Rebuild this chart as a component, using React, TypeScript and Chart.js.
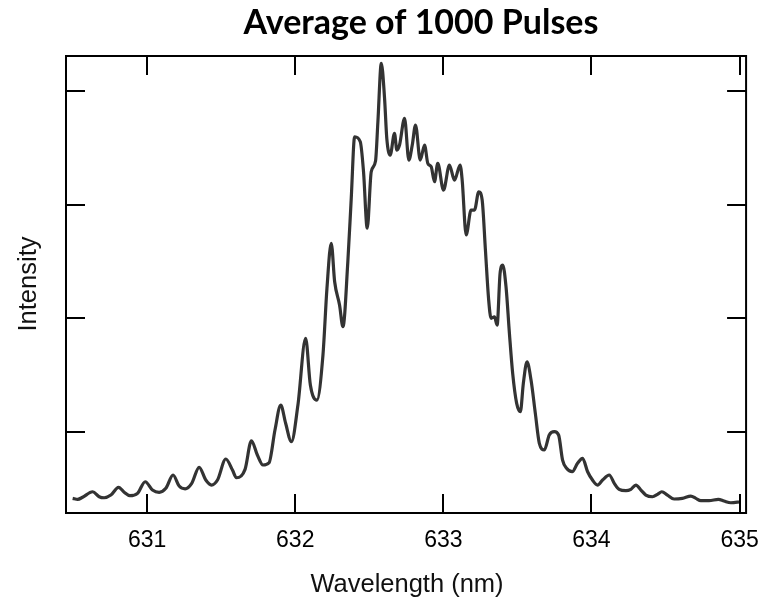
import React, { useEffect, useRef } from "react";
import { Chart, registerables } from "chart.js";

Chart.register(...registerables);

const TITLE = "Average of 1000 Pulses";
const X_TITLE = "Wavelength (nm)";
const Y_TITLE = "Intensity";

const X_TICKS = [631, 632, 633, 634, 635];
const Y_TICKS = [100, 200, 300, 400];

const WAVELENGTH = [
  630.497, 630.531, 630.564, 630.632, 630.676, 630.71, 630.755, 630.807, 630.845, 630.883,
  630.935, 630.987, 631.036, 631.081, 631.126, 631.175, 631.216, 631.256, 631.301, 631.351,
  631.396, 631.434, 631.475, 631.531, 631.576, 631.603, 631.661, 631.704, 631.744, 631.782,
  631.823, 631.863, 631.902, 631.935, 631.974, 632.018, 632.07, 632.102, 632.146, 632.187,
  632.214, 632.243, 632.266, 632.299, 632.322, 632.355, 632.378, 632.401, 632.439, 632.461,
  632.486, 632.513, 632.542, 632.558, 632.581, 632.603, 632.618, 632.641, 632.67, 632.686,
  632.704, 632.738, 632.767, 632.79, 632.812, 632.844, 632.873, 632.895, 632.918, 632.94,
  632.962, 633.001, 633.041, 633.075, 633.113, 633.127, 633.154, 633.187, 633.21, 633.239,
  633.262, 633.284, 633.306, 633.322, 633.345, 633.363, 633.383, 633.401, 633.423, 633.446,
  633.468, 633.495, 633.52, 633.54, 633.565, 633.592, 633.621, 633.648, 633.682, 633.715,
  633.749, 633.778, 633.805, 633.832, 633.87, 633.906, 633.94, 633.974, 634.007, 634.041,
  634.075, 634.12, 634.154, 634.187, 634.233, 634.266, 634.3, 634.334, 634.367, 634.412,
  634.446, 634.475, 634.513, 634.558, 634.614, 634.671, 634.705, 634.738, 634.794, 634.857,
  634.895, 634.941, 635.008,
];

const INTENSITY = [
  41.7, 40.8, 42.6, 47.5, 43.1, 42.2, 44.6, 51.4, 47.0, 44.0,
  46.1, 56.3, 49.0, 47.0, 50.5, 62.2, 52.5, 50.1, 54.9, 69.0,
  57.8, 53.4, 57.8, 76.3, 66.6, 59.8, 67.2, 92.3, 79.8, 71.0,
  73.0, 101.8, 123.7, 107.7, 91.5, 123.7, 182.4, 141.3, 128.1, 167.7,
  226.4, 266.0, 232.2, 211.7, 192.6, 249.8, 305.5, 359.7, 355.3, 328.9,
  279.2, 328.9, 338.3, 372.9, 424.3, 393.5, 358.3, 343.6, 362.7, 348.0,
  352.4, 375.9, 339.2, 352.4, 370.0, 339.2, 352.4, 336.3, 333.3, 320.1,
  336.3, 312.8, 334.8, 321.6, 334.8, 321.6, 273.3, 295.2, 295.2, 311.3,
  304.0, 260.1, 216.1, 200.0, 201.4, 194.1, 239.6, 246.9, 227.8, 186.8,
  151.6, 125.2, 117.9, 142.8, 161.8, 145.7, 116.4, 90.1, 84.2, 97.4,
  100.3, 97.4, 75.4, 68.1, 65.1, 72.5, 76.9, 65.1, 57.8, 53.4,
  57.8, 62.2, 54.9, 49.6, 48.4, 49.6, 53.4, 49.0, 44.6, 43.1,
  45.2, 47.5, 44.6, 41.1, 41.7, 43.7, 41.7, 39.6, 39.6, 40.8,
  39.3, 37.8, 38.7,
];

const X_MIN = 630.452;
const X_MAX = 635.044;
const Y_MIN = 28.8;
const Y_MAX = 430.7;

const framePlugin = {
  id: "frame",
  afterDraw(chart: any) {
    const { ctx, chartArea, scales } = chart;
    const { left, right, top, bottom } = chartArea;
    const x = scales.x;
    const y = scales.y;
    const L = 19;
    ctx.save();
    ctx.strokeStyle = "#000";
    ctx.lineWidth = 2;
    ctx.strokeRect(left, top, right - left, bottom - top);
    const line = (x1: number, y1: number, x2: number, y2: number) => {
      ctx.beginPath();
      ctx.moveTo(x1, y1);
      ctx.lineTo(x2, y2);
      ctx.stroke();
    };
    X_TICKS.forEach((v) => {
      const px = Math.round(x.getPixelForValue(v));
      line(px, bottom, px, bottom - L);
      line(px, top, px, top + L);
    });
    Y_TICKS.forEach((v) => {
      const py = Math.round(y.getPixelForValue(v));
      line(left, py, left + L, py);
      line(right, py, right - L, py);
    });

    ctx.fillStyle = "#000";
    ctx.textAlign = "center";
    ctx.textBaseline = "middle";
    ctx.font = "bold 34px Lato, 'Open Sans', sans-serif";
    ctx.fillText(TITLE, 421, 23);

    ctx.font = "25.5px 'Liberation Sans', Arial, sans-serif";
    ctx.fillStyle = "#111";
    ctx.fillText(X_TITLE, 407, 585);

    ctx.save();
    ctx.translate(29, 284);
    ctx.rotate(-Math.PI / 2);
    ctx.fillText(Y_TITLE, 0, 0);
    ctx.restore();
    ctx.restore();
  },
};

export default function App() {
  const ref = useRef<HTMLCanvasElement | null>(null);

  useEffect(() => {
    if (!ref.current) return;
    const data = WAVELENGTH.map((w, i) => ({ x: w, y: INTENSITY[i] }));
    const chart = new Chart(ref.current, {
      type: "line",
      data: {
        datasets: [
          {
            data,
            borderColor: "#333333",
            borderWidth: 3.2,
            pointRadius: 0,
            cubicInterpolationMode: "monotone",
            fill: false,
          },
        ],
      },
      options: {
        animation: false,
        responsive: false,
        maintainAspectRatio: false,
        layout: { padding: { left: 66, right: 26, top: 56, bottom: 0 } },
        plugins: {
          legend: { display: false },
          title: { display: false },
          tooltip: { enabled: false },
        },
        scales: {
          x: {
            type: "linear",
            min: X_MIN,
            max: X_MAX,
            grid: { display: false, drawTicks: false },
            border: { display: false },
            afterBuildTicks: (s: any) => {
              s.ticks = X_TICKS.map((v) => ({ value: v }));
            },
            afterFit: (s: any) => {
              s.height = 90;
            },
            ticks: {
              padding: 14,
              color: "#000",
              font: { family: "'Liberation Sans', Arial, sans-serif", size: 23 },
              callback: (v: any) => String(v),
            },
          },
          y: {
            type: "linear",
            display: false,
            min: Y_MIN,
            max: Y_MAX,
            afterBuildTicks: (s: any) => {
              s.ticks = Y_TICKS.map((v) => ({ value: v }));
            },
          },
        },
      },
      plugins: [framePlugin],
    });
    return () => chart.destroy();
  }, []);

  return (
    <div
      style={{
        position: "fixed",
        left: 0,
        top: 0,
        width: 773,
        height: 603,
        background: "#fff",
      }}
    >
      <canvas ref={ref} width={773} height={603} style={{ width: 773, height: 603 }} />
    </div>
  );
}
